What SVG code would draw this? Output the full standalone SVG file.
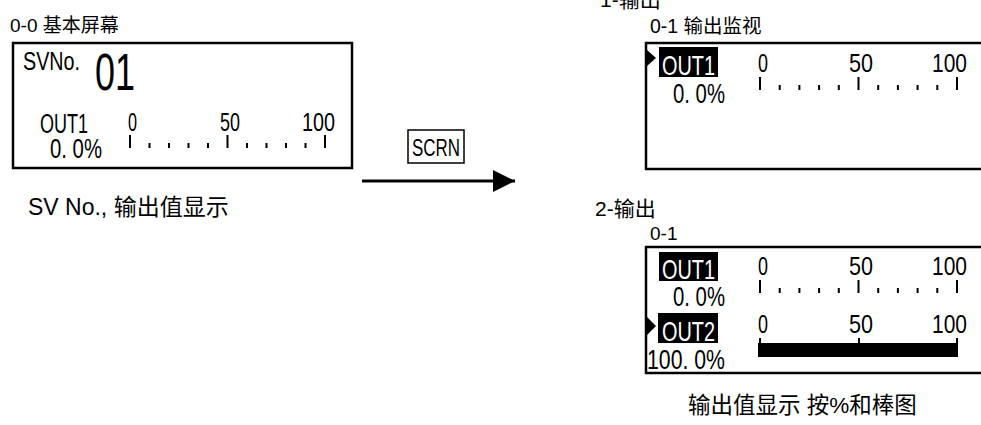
<svg xmlns="http://www.w3.org/2000/svg" width="981" height="425" viewBox="0 0 981 425">
<style>
.lbl{font-family:"Liberation Sans","Noto Sans CJK SC",sans-serif;fill:#000}
.lcd{font-family:"Liberation Sans","DejaVu Sans",sans-serif;fill:#000}
.inv{font-family:"Liberation Sans","DejaVu Sans",sans-serif;fill:#fff}
.box{fill:#fff;stroke:#000;stroke-width:2.5}
.tk{stroke:#000;stroke-width:2}
</style>
<defs>
<marker id="ah" markerWidth="24" markerHeight="22" refX="22" refY="11" orient="auto" markerUnits="userSpaceOnUse">
<path d="M0,0 L22,11 L0,22 Z" fill="#000"/>
</marker>
<g id="scaleL">
<path class="tk" d="M0,0v13 M19.5,8v5 M39,8v5 M58.5,8v5 M78,8v5 M97.5,0v13 M117,8v5 M136.5,8v5 M156,8v5 M175.5,8v5 M195,0v13"/>
</g>
<g id="scaleR">
<path class="tk" d="M0,0v13 M19.7,8v5 M39.4,8v5 M59.1,8v5 M78.8,8v5 M98.5,0v13 M118.2,8v5 M137.9,8v5 M157.6,8v5 M177.3,8v5 M197,0v13"/>
</g>
</defs>

<!-- Screen 0-0 -->
<g id="screen00">
<text class="lbl" x="10" y="32" font-size="19">0-0 基本屏幕</text>
<rect class="box" x="13" y="43" width="339" height="125"/>
<text class="lcd" x="23" y="70" font-size="25" textLength="57" lengthAdjust="spacingAndGlyphs">SVNo.</text>
<text class="lcd" x="95" y="90" font-size="51" textLength="40" lengthAdjust="spacingAndGlyphs">01</text>
<text class="lcd" x="40" y="133" font-size="27" textLength="48" lengthAdjust="spacingAndGlyphs">OUT1</text>
<text class="lcd" x="50" y="158" font-size="27" textLength="52" lengthAdjust="spacingAndGlyphs">0. 0%</text>
<text class="lcd" x="128" y="131" font-size="25" textLength="9" lengthAdjust="spacingAndGlyphs">0</text>
<text class="lcd" x="220" y="131" font-size="25" textLength="20" lengthAdjust="spacingAndGlyphs">50</text>
<text class="lcd" x="302" y="131" font-size="25" textLength="33" lengthAdjust="spacingAndGlyphs">100</text>
<use href="#scaleL" x="130" y="135"/>
<text class="lbl" x="28" y="215" font-size="23">SV No., 输出值显示</text>
</g>

<!-- Connector -->
<g id="connectors">
<line x1="362" y1="181" x2="515" y2="181" stroke="#000" stroke-width="3" marker-end="url(#ah)"/>
<g id="scrnKey">
<rect x="408" y="130" width="56" height="33" fill="#fff" stroke="#000" stroke-width="1.5"/>
<text class="lcd" x="412" y="156" font-size="23" textLength="48" lengthAdjust="spacingAndGlyphs">SCRN</text>
</g>
</g>

<!-- Screen 1 output -->
<g id="screen1out">
<text class="lbl" x="600" y="7" font-size="21">1-输出</text>
<text class="lbl" x="650" y="33" font-size="19.5">0-1 输出监视</text>
<rect class="box" x="646" y="43" width="345" height="126"/>
<path d="M647,50 L656,58 L647,66 Z" fill="#000"/>
<rect x="659" y="47" width="59" height="30" fill="#000"/>
<text class="inv" x="662" y="75" font-size="28" textLength="53" lengthAdjust="spacingAndGlyphs">OUT1</text>
<text class="lcd" x="673" y="103" font-size="27" textLength="52" lengthAdjust="spacingAndGlyphs">0. 0%</text>
<text class="lcd" x="758" y="72" font-size="25" textLength="10" lengthAdjust="spacingAndGlyphs">0</text>
<text class="lcd" x="849" y="72" font-size="25" textLength="24" lengthAdjust="spacingAndGlyphs">50</text>
<text class="lcd" x="932" y="72" font-size="25" textLength="35" lengthAdjust="spacingAndGlyphs">100</text>
<use href="#scaleR" x="760" y="77"/>
</g>

<!-- Screen 2 outputs -->
<g id="screen2out">
<text class="lbl" x="595" y="216" font-size="21">2-输出</text>
<text class="lbl" x="650" y="240" font-size="19">0-1</text>
<rect class="box" x="646" y="247" width="345" height="126"/>
<rect x="659" y="252" width="59" height="29" fill="#000"/>
<text class="inv" x="662" y="279" font-size="28" textLength="53" lengthAdjust="spacingAndGlyphs">OUT1</text>
<text class="lcd" x="673" y="306" font-size="27" textLength="52" lengthAdjust="spacingAndGlyphs">0. 0%</text>
<text class="lcd" x="758" y="275" font-size="25" textLength="10" lengthAdjust="spacingAndGlyphs">0</text>
<text class="lcd" x="849" y="275" font-size="25" textLength="24" lengthAdjust="spacingAndGlyphs">50</text>
<text class="lcd" x="932" y="275" font-size="25" textLength="35" lengthAdjust="spacingAndGlyphs">100</text>
<use href="#scaleR" x="760" y="280"/>
<path d="M647,317 L656,326 L647,335 Z" fill="#000"/>
<rect x="658" y="313" width="60" height="30" fill="#000"/>
<text class="inv" x="662" y="341" font-size="28" textLength="53" lengthAdjust="spacingAndGlyphs">OUT2</text>
<text class="lcd" x="647" y="369" font-size="27" textLength="78" lengthAdjust="spacingAndGlyphs">100. 0%</text>
<text class="lcd" x="758" y="333" font-size="25" textLength="10" lengthAdjust="spacingAndGlyphs">0</text>
<text class="lcd" x="849" y="333" font-size="25" textLength="24" lengthAdjust="spacingAndGlyphs">50</text>
<text class="lcd" x="932" y="333" font-size="25" textLength="35" lengthAdjust="spacingAndGlyphs">100</text>
<path class="tk" d="M760,338v5 M859,338v5 M957,338v5"/>
<rect x="758" y="343" width="200" height="14" fill="#000"/>
<text class="lbl" x="688" y="413" font-size="22.5">输出值显示  按%和棒图</text>
</g>
</svg>
